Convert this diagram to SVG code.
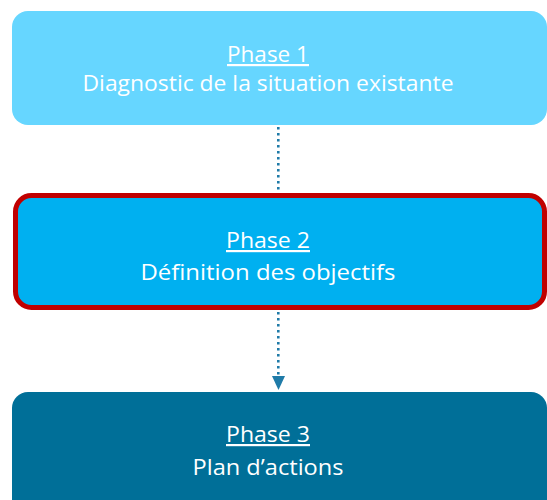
<svg xmlns="http://www.w3.org/2000/svg" width="547" height="500" viewBox="0 0 547 500">
  <style>
    .label { font-family: "Open Sans", "Liberation Sans", sans-serif; font-size: 22px; fill: #ffffff; text-anchor: middle; }
    .title { text-decoration: underline; }
    .link { fill: none; stroke: #1F7BA8; stroke-width: 2.6; stroke-dasharray: 2.6 3.4; }
    .head { fill: #1F7BA8; }
  </style>
  <rect width="547" height="500" fill="#ffffff"/>

  <g id="connectors">
    <line class="link" x1="278.3" y1="127" x2="278.3" y2="193"/>
    <line class="link" x1="278.3" y1="312" x2="278.3" y2="378"/>
    <path class="head" d="M272,376 L285,376 L278.5,390 Z"/>
  </g>

  <g id="phase1">
    <rect x="12" y="11" width="535" height="114" rx="16" fill="#66D6FF"/>
    <text class="label" x="268" y="62" textLength="82" lengthAdjust="spacingAndGlyphs"><tspan class="title">Phase 1</tspan></text>
    <text class="label" x="268" y="91" textLength="371" lengthAdjust="spacingAndGlyphs">Diagnostic de la situation existante</text>
  </g>

  <g id="phase2">
    <rect x="15.5" y="195.5" width="529" height="112" rx="16" fill="#00B0F0" stroke="#C00000" stroke-width="5"/>
    <text class="label" x="268" y="248" textLength="84" lengthAdjust="spacingAndGlyphs"><tspan class="title">Phase 2</tspan></text>
    <text class="label" x="268" y="280" textLength="255" lengthAdjust="spacingAndGlyphs">Définition des objectifs</text>
  </g>

  <g id="phase3">
    <rect x="12" y="392" width="535" height="130" rx="16" fill="#006F98"/>
    <text class="label" x="268" y="442" textLength="84" lengthAdjust="spacingAndGlyphs"><tspan class="title">Phase 3</tspan></text>
    <text class="label" x="268" y="475" textLength="151" lengthAdjust="spacingAndGlyphs">Plan d’actions</text>
  </g>
</svg>
